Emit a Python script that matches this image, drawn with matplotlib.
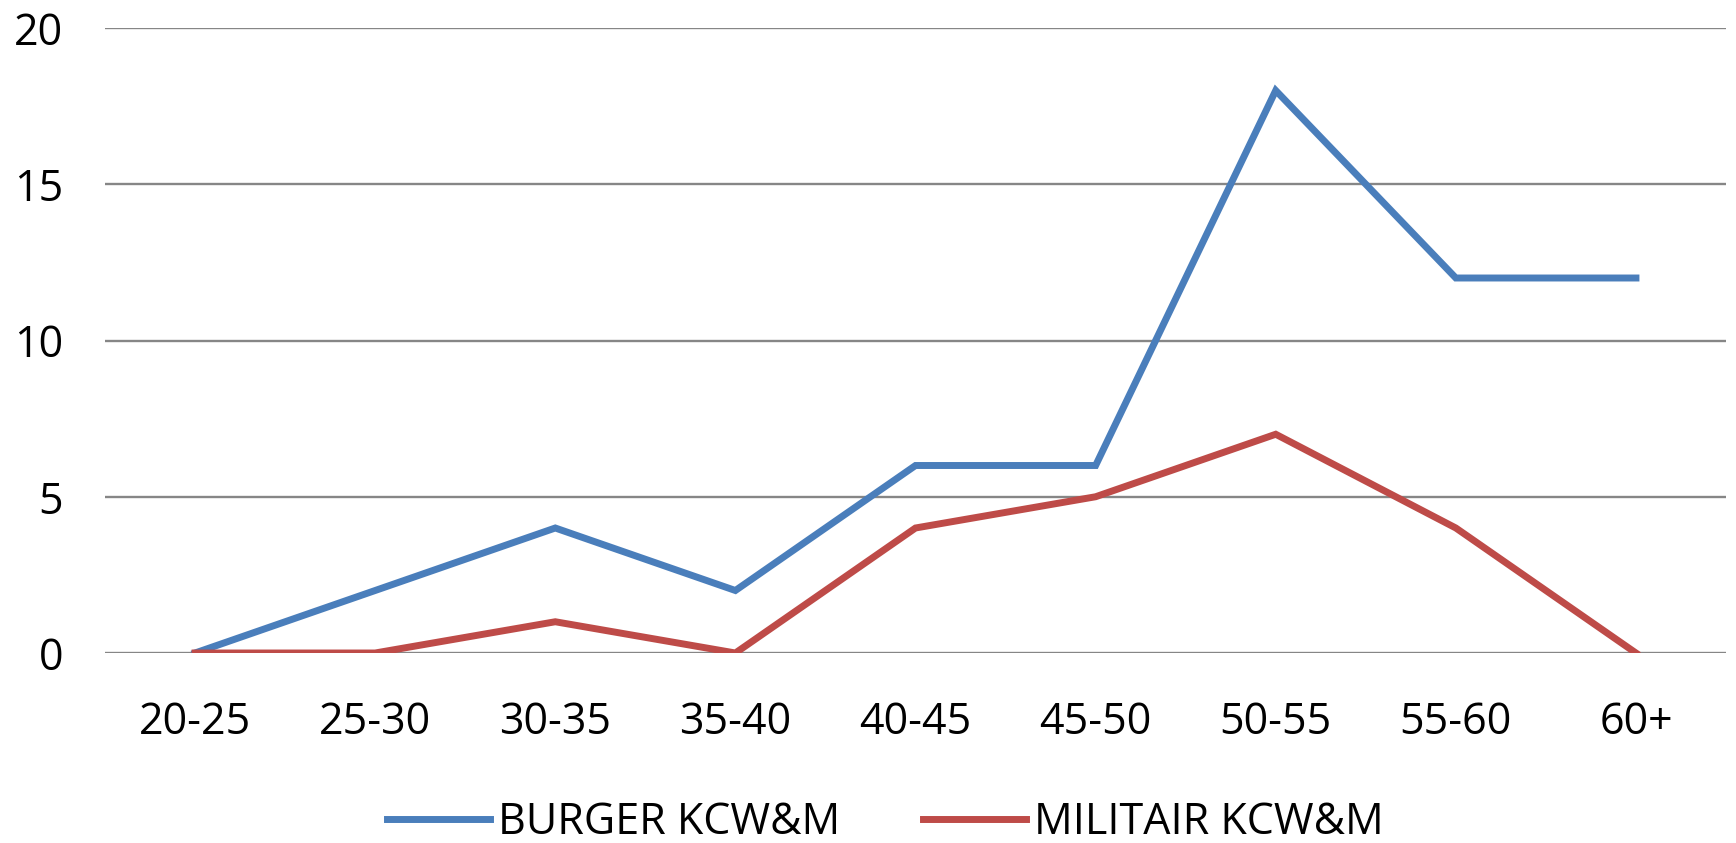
import matplotlib.pyplot as plt

# age groups and counts per group
ageGroups = ['20-25', '25-30', '30-35', '35-40', '40-45', '45-50', '50-55', '55-60', '60+']
burger = [0, 2, 4, 2, 6, 6, 18, 12, 12]
militair = [0, 0, 1, 0, 4, 5, 7, 4, 0]

plt.rcParams['font.family'] = ['Open Sans', 'DejaVu Sans']

fig = plt.figure(figsize=(17.36, 8.43), dpi=100)
ax = fig.add_axes([105 / 1736, 1 - 653 / 843, 1621 / 1736, 625 / 843])

x = range(len(ageGroups))
ax.plot(x, burger, color='#4a7ebb', linewidth=5, label='BURGER KCW&M', solid_joinstyle='miter')
ax.plot(x, militair, color='#be4b48', linewidth=5, label='MILITAIR KCW&M', solid_joinstyle='miter')

ax.set_xlim(-0.5, len(ageGroups) - 0.5)
ax.set_ylim(0, 20)
ax.set_yticks([0, 5, 10, 15, 20])
ax.set_xticks(list(x))
ax.set_xticklabels(ageGroups)

# horizontal grid only, no frame
ax.grid(axis='y', color='#868686', linewidth=1.7)
ax.set_axisbelow(True)
for s in ax.spines.values():
    s.set_visible(False)
ax.tick_params(length=0, labelsize=31, colors='black')
ax.tick_params(axis='y', pad=30)
ax.tick_params(axis='x', pad=34)

fig.legend(loc='center', bbox_to_anchor=(0.51, 0.024), ncol=2, frameon=False,
           fontsize=31, handlelength=2.4, handletextpad=0.2, columnspacing=1.9)

fig.savefig('out.png', dpi=100)
